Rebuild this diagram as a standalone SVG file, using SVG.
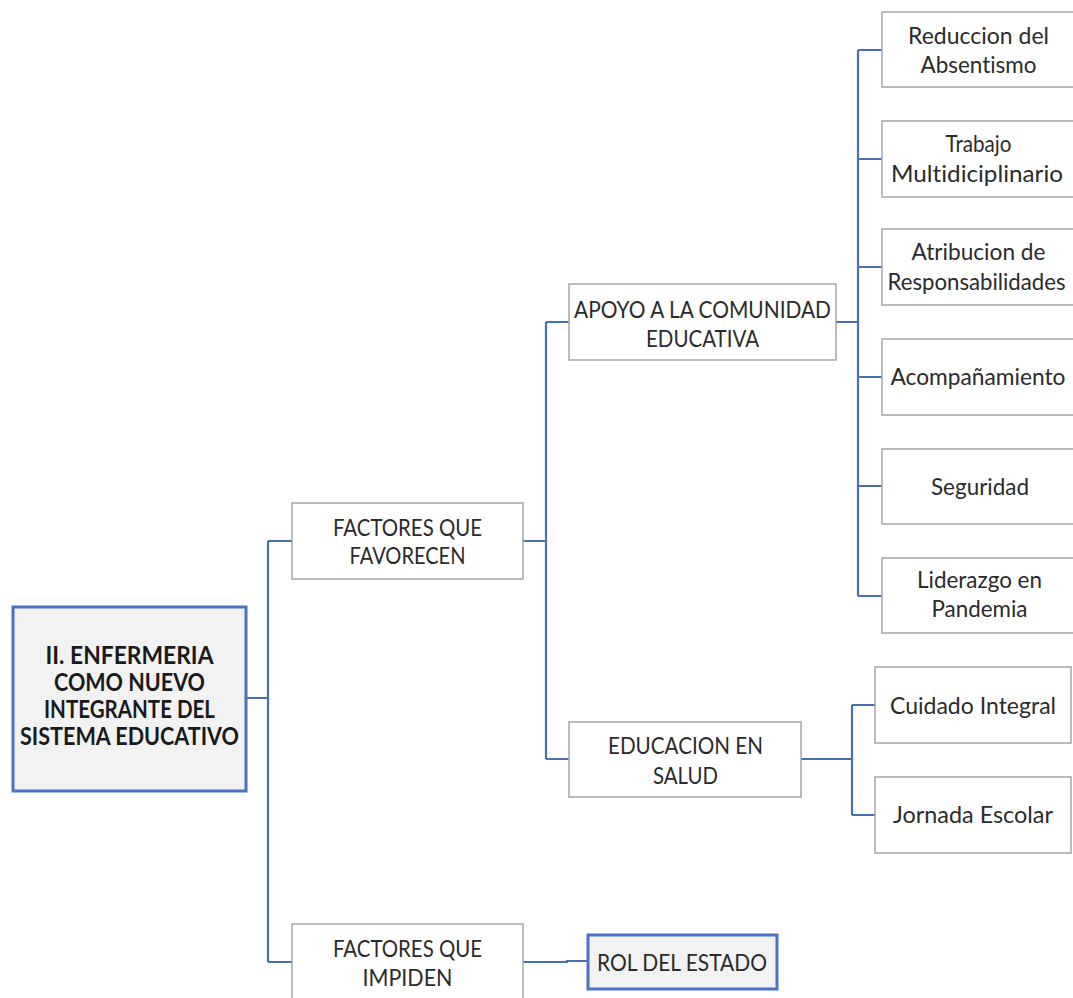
<svg xmlns="http://www.w3.org/2000/svg" width="1073" height="998" viewBox="0 0 1073 998">
<style>
.bg{fill:#ffffff}
.box{fill:#ffffff;stroke:#a6a6a6;stroke-width:1.5}
.key{fill:#f2f2f2;stroke:#4a72c0;stroke-width:3}
.t{font-family:Lato,"Liberation Sans",sans-serif;font-size:24px;fill:#2b2b2b;text-anchor:middle;font-variant-ligatures:none}
.b{font-weight:bold;fill:#1a1a1a}
.c{fill:none;stroke:#4a6fb0;stroke-width:2.2}
</style>
<rect class="bg" x="0" y="0" width="1073" height="998"/>
<g id="connectors">
<path class="c" d="M246,698H268M268,541V962M268,541H292M268,962H292"/>
<path class="c" d="M523,541H546M546,322V759M546,322H569M546,759H569"/>
<path class="c" d="M836,322H858M858,50V596M858,50H882M858,159H882M858,267H882M858,377H882M858,486H882M858,596H882"/>
<path class="c" d="M801,759H852M852,705V815M852,705H875M852,815H875"/>
<path class="c" d="M523,962H567V961H588"/>
</g>
<g id="root">
<rect class="key" x="13" y="607" width="233" height="184"/>
<text class="t b" x="129.5" y="664" textLength="168" lengthAdjust="spacingAndGlyphs">II. ENFERMERIA</text>
<text class="t b" x="129.5" y="691" textLength="151" lengthAdjust="spacingAndGlyphs">COMO NUEVO</text>
<text class="t b" x="129.5" y="718" textLength="171" lengthAdjust="spacingAndGlyphs">INTEGRANTE DEL</text>
<text class="t b" x="129.5" y="745" textLength="219" lengthAdjust="spacingAndGlyphs">SISTEMA EDUCATIVO</text>
</g>
<g id="favorecen">
<rect class="box" x="292" y="503" width="231" height="76"/>
<text class="t" x="407.5" y="536" textLength="149" lengthAdjust="spacingAndGlyphs">FACTORES QUE</text>
<text class="t" x="407.5" y="564" textLength="116" lengthAdjust="spacingAndGlyphs">FAVORECEN</text>
</g>
<g id="impiden">
<rect class="box" x="292" y="924" width="231" height="80"/>
<text class="t" x="407.5" y="957" textLength="149" lengthAdjust="spacingAndGlyphs">FACTORES QUE</text>
<text class="t" x="407.5" y="986" textLength="90" lengthAdjust="spacingAndGlyphs">IMPIDEN</text>
</g>
<g id="rol">
<rect class="key" x="588" y="935" width="189" height="54"/>
<text class="t" x="682" y="971" textLength="170" lengthAdjust="spacingAndGlyphs">ROL DEL ESTADO</text>
</g>
<g id="apoyo">
<rect class="box" x="569" y="284" width="267" height="76"/>
<text class="t" x="702.5" y="318" textLength="257" lengthAdjust="spacingAndGlyphs">APOYO A LA COMUNIDAD</text>
<text class="t" x="702.5" y="347" textLength="113" lengthAdjust="spacingAndGlyphs">EDUCATIVA</text>
</g>
<g id="educacion">
<rect class="box" x="569" y="722" width="232" height="75"/>
<text class="t" x="685.5" y="754" textLength="155" lengthAdjust="spacingAndGlyphs">EDUCACION EN</text>
<text class="t" x="685.5" y="784" textLength="65" lengthAdjust="spacingAndGlyphs">SALUD</text>
</g>
<g id="reduccion">
<rect class="box" x="882" y="12" width="196" height="75"/>
<text class="t" x="978.5" y="44" textLength="141" lengthAdjust="spacingAndGlyphs">Reduccion del</text>
<text class="t" x="978.5" y="73" textLength="116" lengthAdjust="spacingAndGlyphs">Absentismo</text>
</g>
<g id="trabajo">
<rect class="box" x="882" y="121" width="196" height="76"/>
<text class="t" x="978.5" y="152" textLength="66" lengthAdjust="spacingAndGlyphs">Trabajo</text>
<text class="t" x="977" y="182" textLength="172" lengthAdjust="spacingAndGlyphs">Multidiciplinario</text>
</g>
<g id="atribucion">
<rect class="box" x="882" y="229" width="196" height="76"/>
<text class="t" x="978.5" y="260" textLength="134" lengthAdjust="spacingAndGlyphs">Atribucion de</text>
<text class="t" x="976.5" y="290" textLength="178" lengthAdjust="spacingAndGlyphs">Responsabilidades</text>
</g>
<g id="acompanamiento">
<rect class="box" x="882" y="339" width="196" height="76"/>
<text class="t" x="978" y="385" textLength="175" lengthAdjust="spacingAndGlyphs">Acompañamiento</text>
</g>
<g id="seguridad">
<rect class="box" x="882" y="449" width="196" height="75"/>
<text class="t" x="980" y="495" textLength="98" lengthAdjust="spacingAndGlyphs">Seguridad</text>
</g>
<g id="liderazgo">
<rect class="box" x="882" y="558" width="196" height="75"/>
<text class="t" x="979.5" y="588" textLength="125" lengthAdjust="spacingAndGlyphs">Liderazgo en</text>
<text class="t" x="979.5" y="617" textLength="96" lengthAdjust="spacingAndGlyphs">Pandemia</text>
</g>
<g id="cuidado">
<rect class="box" x="875" y="667" width="196" height="76"/>
<text class="t" x="973" y="714" textLength="166" lengthAdjust="spacingAndGlyphs">Cuidado Integral</text>
</g>
<g id="jornada">
<rect class="box" x="875" y="777" width="196" height="76"/>
<text class="t" x="973" y="823" textLength="160" lengthAdjust="spacingAndGlyphs">Jornada Escolar</text>
</g>
</svg>
